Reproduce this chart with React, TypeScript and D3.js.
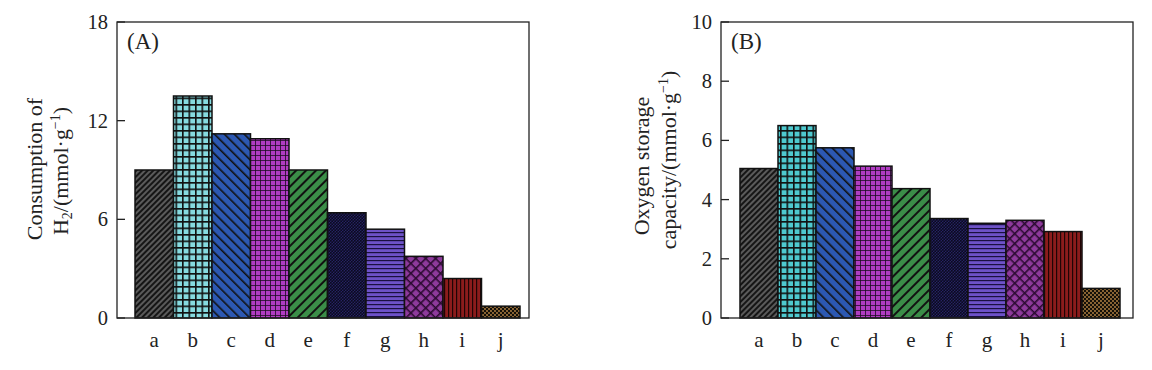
import * as d3 from 'd3'

const categories = ['a', 'b', 'c', 'd', 'e', 'f', 'g', 'h', 'i', 'j']
const h2Consumption = [9.0, 13.5, 11.2, 10.9, 9.0, 6.4, 5.4, 3.75, 2.4, 0.72]
const oxygenStorage = [5.05, 6.5, 5.75, 5.13, 4.37, 3.36, 3.2, 3.3, 2.92, 1.0]
const ticksA = [0, 6, 12, 18]
const ticksB = [0, 2, 4, 6, 8, 10]

const FONT = '"Liberation Serif", "DejaVu Serif", serif'

// fill style per category: base colour + hatch kind
const fills = [
  { bg: '#5a5a5a', ink: '#151515', kind: 'up', size: 4, w: 2 },
  { bg: '#86dbe0', ink: '#111', kind: 'grid', size: 6.5, w: 1.6 },
  { bg: '#2c58b2', ink: '#111', kind: 'down', size: 7, w: 1.6 },
  { bg: '#b03cc2', ink: '#1a0a1e', kind: 'grid', size: 5, w: 0.8 },
  { bg: '#3b8d48', ink: '#111', kind: 'up', size: 7, w: 2 },
  { bg: '#262262', ink: '#0a0a20', kind: 'dots', size: 3, w: 1 },
  { bg: '#6d52c8', ink: '#1a1040', kind: 'horiz', size: 4, w: 1.2 },
  { bg: '#8e3a9c', ink: '#2a0a30', kind: 'cross', size: 7, w: 1.6 },
  { bg: '#8c1c1c', ink: '#200505', kind: 'vert', size: 4, w: 1.2 },
  { bg: '#141008', ink: '#c08a48', kind: 'dots', size: 4, w: 0.9 },
]

const Pattern = ({ id, f }: { id: string; f: (typeof fills)[number] }) => {
  const s = f.size
  let rot = ''
  let marks = null
  if (f.kind === 'up' || f.kind === 'down') {
    rot = f.kind === 'up' ? 'rotate(45)' : 'rotate(-45)'
    marks = <line x1={0} y1={0} x2={0} y2={s} stroke={f.ink} strokeWidth={f.w * 2} />
  } else if (f.kind === 'grid' || f.kind === 'cross') {
    if (f.kind === 'cross') rot = 'rotate(45)'
    marks = (
      <path d={`M0,0H${s}M0,0V${s}`} stroke={f.ink} strokeWidth={f.w * 2} fill="none" />
    )
  } else if (f.kind === 'horiz') {
    marks = <line x1={0} y1={0} x2={s} y2={0} stroke={f.ink} strokeWidth={f.w * 2} />
  } else if (f.kind === 'vert') {
    marks = <line x1={0} y1={0} x2={0} y2={s} stroke={f.ink} strokeWidth={f.w * 2} />
  } else {
    marks = (
      <g fill={f.ink}>
        <circle cx={s / 4} cy={s / 4} r={f.w} />
        <circle cx={(3 * s) / 4} cy={(3 * s) / 4} r={f.w} />
      </g>
    )
  }
  return (
    <pattern id={id} patternUnits="userSpaceOnUse" width={s} height={s} patternTransform={rot}>
      <rect width={s} height={s} fill={f.bg} />
      {marks}
    </pattern>
  )
}

const Panel = ({
  id,
  values,
  ticks,
  left,
  right,
  barStart,
  barEnd,
  label,
  title,
  cyan,
}: {
  id: string
  values: number[]
  ticks: number[]
  left: number
  right: number
  barStart: number
  barEnd: number
  label: string
  title: React.ReactNode
  cyan: string
}) => {
  const top = 22
  const bottom = 318
  const y = d3.scaleLinear().domain([0, ticks[ticks.length - 1]]).range([bottom, top])
  const x = d3.scaleBand().domain(categories).range([barStart, barEnd]).padding(0)
  const panelFills = fills.map((f, i) => (i === 1 ? { ...f, bg: cyan } : f))

  return (
    <g>
      <defs>
        {panelFills.map((f, i) => (
          <Pattern key={i} id={`${id}-p${i}`} f={f} />
        ))}
      </defs>
      {categories.map((c, i) => (
        <rect
          key={c}
          x={x(c)}
          y={y(values[i])}
          width={x.bandwidth()}
          height={bottom - y(values[i])}
          fill={`url(#${id}-p${i})`}
          stroke="#111"
          strokeWidth={1.5}
        />
      ))}
      <rect x={left} y={top} width={right - left} height={bottom - top} fill="none" stroke="#222" strokeWidth={1.3} />
      {ticks.map((t) => (
        <g key={t}>
          <line x1={left} x2={left + 8} y1={y(t)} y2={y(t)} stroke="#222" strokeWidth={1.3} />
          <text x={left - 9} y={y(t) + 7} textAnchor="end" fontSize={20.5}>
            {t}
          </text>
        </g>
      ))}
      {categories.map((c) => (
        <text key={c} x={x(c)! + x.bandwidth() / 2} y={347} textAnchor="middle" fontSize={21}>
          {c}
        </text>
      ))}
      <text x={left + 10} y={49} fontSize={23}>
        {label}
      </text>
      {title}
    </g>
  )
}

export default function App() {
  return (
    <svg
      width={1152}
      height={370}
      style={{ position: 'absolute', left: 0, top: 0, background: '#fff' }}
      fontFamily={FONT}
      fill="#222"
    >
      <Panel
        id="A"
        values={h2Consumption}
        ticks={ticksA}
        left={117}
        right={529}
        barStart={135}
        barEnd={520}
        label="(A)"
        cyan="#86dbe0"
        title={
          <g fontSize={22}>
            <text transform="translate(42,169) rotate(-90)" textAnchor="middle">
              Consumption of
            </text>
            <text transform="translate(68,171) rotate(-90)" textAnchor="middle">
              H<tspan fontSize={14} dy={4}>2</tspan>
              <tspan dy={-4}>/(mmol·g</tspan>
              <tspan fontSize={14} dy={-8}>−1</tspan>
              <tspan dy={8}>)</tspan>
            </text>
          </g>
        }
      />
      <Panel
        id="B"
        values={oxygenStorage}
        ticks={ticksB}
        left={721}
        right={1133}
        barStart={740}
        barEnd={1120}
        label="(B)"
        cyan="#4ec9cf"
        title={
          <g fontSize={22}>
            <text transform="translate(649,166) rotate(-90)" textAnchor="middle">
              Oxygen storage
            </text>
            <text transform="translate(676,160) rotate(-90)" textAnchor="middle">
              capacity/(mmol·g<tspan fontSize={14} dy={-8}>−1</tspan>
              <tspan dy={8}>)</tspan>
            </text>
          </g>
        }
      />
    </svg>
  )
}
